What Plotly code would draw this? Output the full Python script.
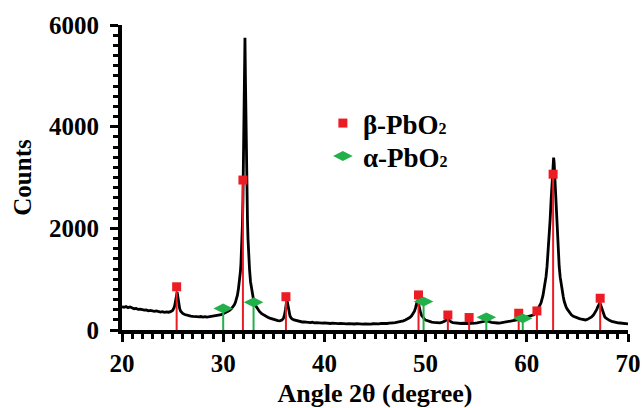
import plotly.graph_objects as go

# XRD pattern: diffraction angle 2θ (degree) and measured counts
angle = [
    20.0, 20.2, 20.4, 20.6, 20.8, 21.0, 21.2, 21.4, 21.6, 21.8,
    22.0, 22.2, 22.4, 22.6, 22.8, 23.0, 23.2, 23.4, 23.6, 23.8,
    24.0, 24.2, 24.4, 24.6, 24.8, 25.0, 25.1, 25.2, 25.3, 25.35,
    25.4, 25.45, 25.5, 25.55, 25.6, 25.7, 25.8, 25.9, 26.0, 26.2,
    26.4, 26.6, 26.8, 27.0, 27.2, 27.4, 27.6, 27.8, 28.0, 28.2,
    28.4, 28.6, 28.8, 29.0, 29.2, 29.4, 29.6, 29.8, 30.0, 30.2,
    30.4, 30.6, 30.8, 31.0, 31.1, 31.2, 31.3, 31.4, 31.5, 31.6,
    31.7, 31.75, 31.8, 31.85, 31.9, 31.95, 32.0, 32.05, 32.1, 32.15,
    32.2, 32.25, 32.3, 32.35, 32.4, 32.45, 32.5, 32.6, 32.7, 32.8,
    32.9, 33.0, 33.2, 33.4, 33.6, 33.8, 34.0, 34.2, 34.4, 34.6,
    34.8, 35.0, 35.2, 35.4, 35.6, 35.8, 35.95, 36.05, 36.15, 36.22,
    36.28, 36.33, 36.4, 36.5, 36.6, 36.7, 36.8, 37.0, 37.2, 37.4,
    37.6, 37.8, 38.0, 38.2, 38.4, 38.6, 38.8, 39.0, 39.2, 39.4,
    39.6, 39.8, 40.0, 40.2, 40.4, 40.6, 40.8, 41.0, 41.2, 41.4,
    41.6, 41.8, 42.0, 42.2, 42.4, 42.6, 42.8, 43.0, 43.2, 43.4,
    43.6, 43.8, 44.0, 44.2, 44.4, 44.6, 44.8, 45.0, 45.2, 45.4,
    45.6, 45.8, 46.0, 46.2, 46.4, 46.6, 46.8, 47.0, 47.2, 47.4,
    47.6, 47.8, 48.0, 48.2, 48.4, 48.6, 48.8, 48.9, 49.0, 49.05,
    49.1, 49.15, 49.2, 49.25, 49.3, 49.4, 49.5, 49.6, 49.7, 49.8,
    49.9, 50.0, 50.2, 50.4, 50.6, 50.8, 51.0, 51.2, 51.4, 51.6,
    51.8, 51.95, 52.05, 52.15, 52.25, 52.35, 52.5, 52.7, 52.9, 53.1,
    53.3, 53.5, 53.7, 53.9, 54.1, 54.3, 54.5, 54.7, 54.9, 55.1,
    55.3, 55.5, 55.7, 55.85, 56.0, 56.15, 56.3, 56.5, 56.7, 56.9,
    57.1, 57.3, 57.5, 57.7, 57.9, 58.1, 58.3, 58.5, 58.7, 58.9,
    59.1, 59.3, 59.5, 59.7, 59.9, 60.1, 60.3, 60.5, 60.7, 61.0,
    61.2, 61.4, 61.6, 61.7, 61.8, 61.9, 62.0, 62.1, 62.2, 62.3,
    62.4, 62.5, 62.55, 62.6, 62.65, 62.7, 62.75, 62.8, 62.9, 63.0,
    63.1, 63.2, 63.3, 63.4, 63.5, 63.6, 63.7, 63.8, 63.9, 64.0,
    64.2, 64.4, 64.6, 64.8, 65.0, 65.2, 65.4, 65.6, 65.8, 66.0,
    66.2, 66.4, 66.6, 66.8, 66.9, 67.0, 67.1, 67.2, 67.25, 67.3,
    67.4, 67.5, 67.6, 67.7, 67.8, 68.0, 68.2, 68.4, 68.6, 68.8,
    69.0, 69.2, 69.4, 69.6, 69.8, 70.0,
]
counts = [
    455, 448, 462, 440, 452, 430, 418, 425, 405, 412,
    398, 390, 396, 378, 385, 372, 366, 374, 358, 352,
    360, 348, 355, 350, 362, 385, 420, 470, 580, 680,
    740, 745, 680, 590, 510, 420, 370, 345, 325, 305,
    290, 282, 275, 268, 272, 262, 258, 265, 255, 262,
    252, 260, 266, 262, 272, 280, 288, 300, 318, 335,
    355, 380, 415, 460, 495, 540, 600, 680, 800, 950,
    1150, 1290, 1480, 1720, 2070, 2560, 3150, 3900, 4750, 5750,
    4900, 3950, 3180, 2600, 2150, 1800, 1540, 1200, 950, 790,
    670, 590, 480, 410, 360, 322, 292, 268, 250, 234,
    218, 206, 194, 186, 180, 195, 230, 290, 400, 520,
    575, 560, 460, 340, 275, 240, 218, 198, 185, 172,
    165, 158, 160, 150, 148, 145, 152, 140, 146, 138,
    142, 135, 140, 132, 137, 128, 134, 126, 131, 124,
    130, 122, 128, 120, 126, 119, 124, 118, 125, 117,
    122, 116, 121, 115, 120, 117, 123, 118, 126, 121,
    128, 124, 132, 128, 136, 134, 142, 145, 152, 158,
    168, 180, 195, 215, 240, 275, 330, 370, 430, 480,
    540, 585, 590, 560, 510, 420, 345, 290, 255, 230,
    210, 195, 178, 165, 155, 150, 142, 146, 140, 148,
    158, 180, 205, 218, 210, 185, 160, 145, 138, 132,
    136, 128, 133, 126, 131, 125, 132, 128, 136, 140,
    145, 152, 160, 172, 180, 176, 165, 150, 142, 136,
    138, 134, 140, 145, 152, 160, 168, 178, 186, 195,
    205, 215, 228, 238, 245, 255, 265, 275, 300, 375,
    440, 530, 680, 780, 900, 1050, 1250, 1500, 1800, 2150,
    2550, 3000, 3250, 3370, 3390, 3300, 3100, 2850, 2350, 1900,
    1530, 1250, 1040, 880, 760, 660, 560, 490, 445, 410,
    345, 300, 270, 250, 236, 224, 212, 200, 198, 210,
    232, 258, 298, 360, 400, 450, 500, 525, 520, 490,
    420, 350, 300, 262, 238, 205, 185, 170, 158, 150,
    142, 138, 132, 128, 124, 120,
]

# Reference reflections: β-PbO2 and α-PbO2 (position, marker height)
beta_pos = [25.4, 31.95, 36.2, 49.3, 52.2, 54.3, 59.2, 61.0, 62.6, 67.25]
beta_val = [850, 2950, 655, 690, 295, 245, 330, 375, 3065, 625]
alpha_pos = [30.0, 33.0, 49.8, 56.0, 59.6]
alpha_val = [425, 545, 560, 250, 230]

RED = "#ec1c24"
GREEN = "#22b04b"
FONT = "Liberation Serif"


def stems(pos, val):
    xs, ys = [], []
    for p, v in zip(pos, val):
        xs += [p, p, None]
        ys += [0, v, None]
    return xs, ys


fig = go.Figure()

fig.add_trace(go.Scatter(
    x=angle, y=counts, mode="lines",
    line=dict(color="black", width=2.8),
    showlegend=False, hoverinfo="skip",
))

bx, by = stems(beta_pos, beta_val)
fig.add_trace(go.Scatter(
    x=bx, y=by, mode="lines", line=dict(color=RED, width=2),
    showlegend=False, hoverinfo="skip",
))
ax_, ay_ = stems(alpha_pos, alpha_val)
fig.add_trace(go.Scatter(
    x=ax_, y=ay_, mode="lines", line=dict(color=GREEN, width=2),
    showlegend=False, hoverinfo="skip",
))

fig.add_trace(go.Scatter(
    x=beta_pos, y=beta_val, mode="markers",
    marker=dict(symbol="square", size=9, color=RED),
    name="β-PbO<span style='font-size:16px'>2</span>",
    legend="legend",
))
fig.add_trace(go.Scatter(
    x=alpha_pos, y=alpha_val, mode="markers",
    marker=dict(symbol="diamond-wide", size=14, color=GREEN),
    name="α-PbO<span style='font-size:16px'>2</span>",
    legend="legend2",
))

axis_common = dict(
    showline=True, linewidth=4, linecolor="black",
    ticks="outside", tickwidth=3, tickcolor="black", ticklen=8,
    showgrid=False, zeroline=False, automargin=False,
    tickfont=dict(family=FONT, size=25, color="black", weight="bold"),
)

legend_common = dict(
    xanchor="left", yanchor="middle",
    bgcolor="rgba(0,0,0,0)", borderwidth=0,
    font=dict(family=FONT, size=27, color="black", weight="bold"),
)

fig.update_layout(
    width=643, height=408,
    margin=dict(l=122, r=15, t=25, b=78),
    paper_bgcolor="white", plot_bgcolor="white",
    font=dict(family=FONT, color="black"),
    xaxis=dict(
        range=[20, 70], tickmode="linear", tick0=20, dtick=10,
        ticklabelstandoff=0,
        minor=dict(dtick=1, ticks="outside", ticklen=5, tickwidth=3, tickcolor="black"),
        title=dict(text="Angle 2θ (degree)", standoff=21,
                   font=dict(family=FONT, size=26, color="black", weight="bold")),
        **axis_common,
    ),
    yaxis=dict(
        range=[0, 6000], tickmode="linear", tick0=0, dtick=2000,
        ticklabelstandoff=6,
        minor=dict(dtick=200, ticks="outside", ticklen=5, tickwidth=3, tickcolor="black"),
        title=dict(text="Counts", standoff=11,
                   font=dict(family=FONT, size=25, color="black", weight="bold")),
        **axis_common,
    ),
    legend=dict(x=0.397, y=0.677, **legend_common),
    legend2=dict(x=0.397, y=0.569, **legend_common),
)

fig.write_html("out.html", config={"displayModeBar": False})
